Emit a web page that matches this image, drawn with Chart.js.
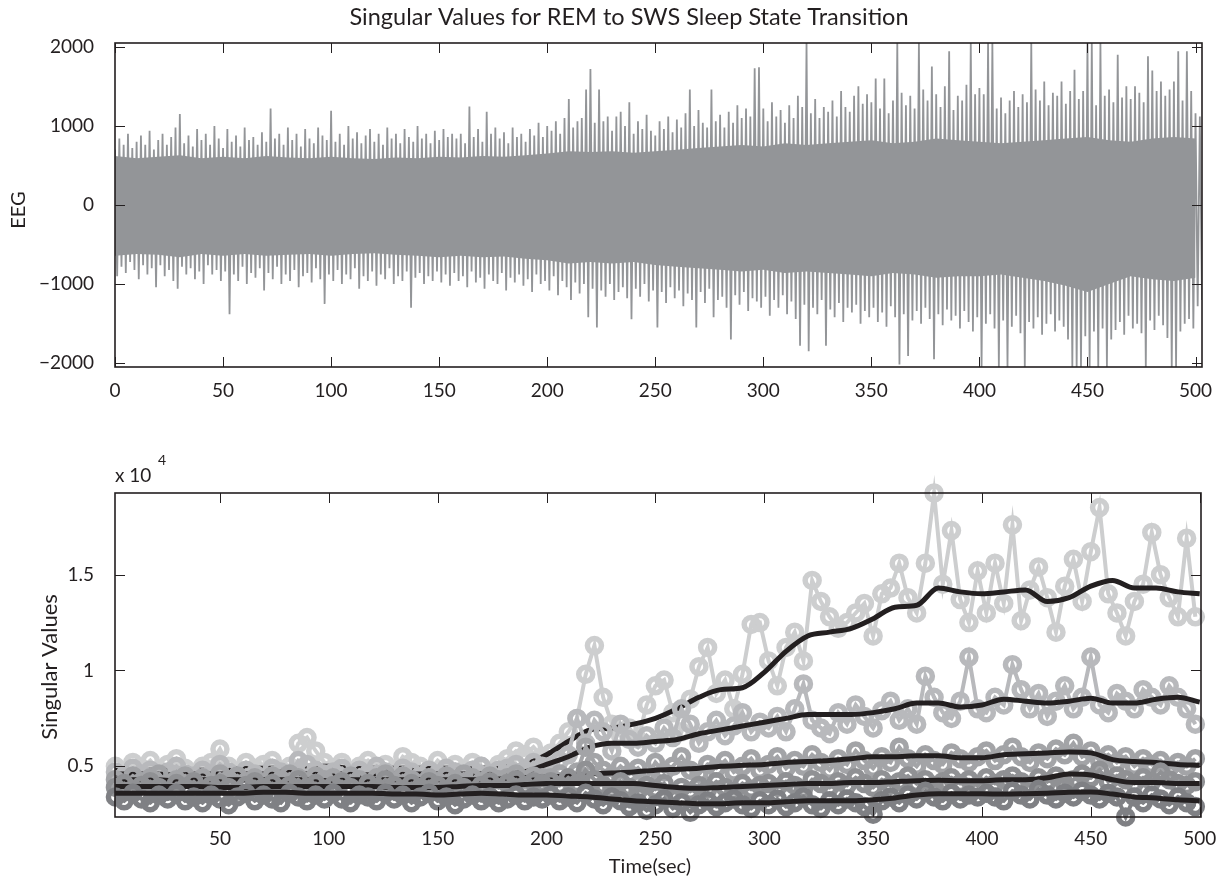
<!DOCTYPE html>
<html>
<head>
<meta charset="utf-8">
<script src="https://cdn.jsdelivr.net/npm/chart.js@4.4.1/dist/chart.umd.min.js"></script>
<style>
    body { margin: 0; background: #fff; }
    #wrap { position: relative; width: 1220px; height: 881px; }
    canvas { position: absolute; left: 0; }
</style>
</head>
<body>
<div id="wrap">
    <canvas id="eegChart" width="1220" height="430" style="top:0"></canvas>
    <canvas id="svdChart" width="1220" height="451" style="top:430px"></canvas>
</div>
<script>
// ---------- EEG (top) : envelope every 2 s ----------
var eegHigh = [
    700, 840, 760, 900, 720, 800, 880, 760, 940, 700, 820, 900, 760, 860, 980, 1150, 780, 880, 740, 960, 820, 900, 760, 1000, 840,
    720, 960, 800, 880, 740, 980, 820, 860, 760, 920, 800, 1220, 840, 900, 760, 980, 820, 900, 740, 960, 840, 780, 980, 880, 820,
    1190, 800, 900, 760, 1000, 840, 920, 780, 880, 960, 800, 900, 760, 980, 840, 900, 780, 960, 860, 800, 1000, 840, 900, 780, 940,
    820, 960, 860, 900, 840, 900, 780, 1245, 860, 960, 800, 1180, 900, 980, 840, 920, 780, 980, 860, 900, 800, 960, 880, 1040, 860,
    1000, 940, 1060, 900, 1100, 1340, 980, 1060, 1100, 1460, 1720, 1040, 1460, 1060, 1120, 940, 1120, 1180, 1000, 1300, 900, 1060, 960, 1140, 940,
    880, 1060, 960, 1120, 920, 1080, 980, 1160, 1460, 1000, 1200, 1040, 980, 1460, 1060, 1140, 980, 1180, 1040, 1260, 1100, 1220, 1120, 1730, 1740,
    1220, 1060, 1300, 1120, 1200, 1040, 1260, 1100, 1380, 1240, 2048, 1160, 1340, 1100, 1240, 1180, 1320, 1120, 1440, 1240, 1180, 1380, 1500, 1280, 1400,
    1300, 1600, 1220, 1600, 1160, 1320, 2048, 1420, 1260, 1380, 1220, 2048, 1460, 1320, 1750, 1400, 1240, 1500, 1945, 1200, 1380, 1320, 1520, 2048, 1400,
    1480, 1400, 2048, 2048, 1220, 1360, 1160, 1320, 1440, 1240, 1400, 1300, 2048, 1460, 1320, 1560, 1260, 1420, 1380, 1560, 1280, 1440, 1710, 1340, 1440,
    2048, 2048, 1260, 2048, 1380, 1460, 1300, 1900, 1360, 1500, 1340, 1500, 1420, 1300, 1880, 1700, 1440, 1560, 1380, 1460, 1560, 1945, 1320, 1945, 1440,
    1160, 1120
];
var eegLow = [
    -900, -780, -860, -720, -820, -940, -760, -880, -800, -1040, -760, -900, -820, -960, -1060, -780, -880, -800, -940, -840, -1000, -760, -880, -820, -960,
    -840, -1380, -880, -960, -780, -1000, -860, -920, -800, -1080, -860, -940, -780, -1000, -880, -960, -820, -1040, -900, -860, -980, -800, -940, -1250, -880,
    -960, -820, -1000, -880, -940, -800, -1060, -900, -960, -840, -1020, -880, -940, -800, -1000, -900, -960, -840, -1300, -920, -860, -1000, -900, -960, -840,
    -980, -880, -1020, -860, -960, -900, -1040, -840, -980, -920, -1060, -880, -960, -1000, -860, -1080, -920, -980, -880, -1020, -940, -1100, -880, -1000, -960,
    -1080, -900, -1140, -960, -1040, -1200, -980, -1120, -1000, -1420, -1060, -1550, -1080, -1160, -1000, -1200, -1100, -1040, -1180, -1445, -1060, -1160, -1000, -1220, -1080,
    -1550, -1100, -1240, -1040, -1180, -1080, -1280, -1120, -1200, -1550, -1100, -1240, -1060, -1420, -1200, -1160, -1300, -1700, -1140, -1260, -1100, -1340, -1180, -1220, -1300,
    -1160, -1400, -1200, -1300, -1140, -1380, -1220, -1440, -1780, -1260, -1850, -1300, -1380, -1200, -1780, -1320, -1420, -1240, -1480, -1300, -1360, -1260, -1500, -1340, -1420,
    -1300, -1480, -1360, -1540, -1280, -1420, -2015, -1380, -1910, -1460, -1340, -1500, -1300, -1440, -1950, -1380, -1520, -1320, -1460, -1400, -1560, -1340, -1480, -1600, -1420,
    -2048, -1500, -1380, -1560, -2048, -1460, -2048, -1540, -1400, -1620, -2048, -1480, -1560, -1420, -1640, -1500, -1380, -1600, -1460, -1540, -1700, -2048, -2048, -2048, -1660,
    -2048, -1600, -2048, -1560, -2048, -1700, -1580, -1480, -1640, -1400, -1560, -1500, -1620, -2048, -1460, -1580, -1400, -1520, -1680, -2048, -2048, -1600, -1500, -1440, -1560,
    -1280, -1200
];
// solid core of the trace, every 10 s
var coreHigh = [
    620, 590, 610, 630, 590, 610, 590, 620, 600, 590,
    610, 590, 580, 600, 590, 610, 600, 620, 610, 630,
    650, 680, 670, 680, 660, 680, 700, 720, 740, 760,
    740, 780, 760, 780, 800, 820, 780, 800, 840, 820,
    800, 780, 800, 820, 840, 860, 820, 800, 840, 860,
    840
];
var coreLow = [
    -640, -620, -630, -660, -620, -640, -620, -640, -630, -620,
    -640, -620, -610, -630, -640, -660, -640, -660, -650, -680,
    -700, -740, -720, -740, -720, -760, -780, -800, -820, -840,
    -820, -860, -840, -860, -880, -900, -860, -880, -920, -900,
    -900, -880, -920, -960, -1020, -1100, -1000, -900, -940, -960,
    -920
];
var eegXTicks = [0, 50, 100, 150, 200, 250, 300, 350, 400, 450, 500];
var eegYTicks = [-2000, -1000, 0, 1000, 2000];

// ---------- singular values (bottom), x 10^4, one point every 4 s from t = 2 ----------
var sv1 = [
    0.50, 0.47, 0.52, 0.49, 0.53, 0.48, 0.51, 0.54, 0.49, 0.46, 0.50, 0.52, 0.59, 0.50, 0.47, 0.52, 0.49, 0.51, 0.53, 0.48, 0.50, 0.62, 0.65, 0.58, 0.52,
    0.49, 0.52, 0.47, 0.50, 0.53, 0.49, 0.51, 0.48, 0.55, 0.52, 0.50, 0.47, 0.53, 0.49, 0.51, 0.48, 0.52, 0.50, 0.47, 0.51, 0.54, 0.58, 0.56, 0.60, 0.55,
    0.57, 0.62, 0.68, 0.75, 0.98, 1.13, 0.86, 0.72, 0.66, 0.70, 0.64, 0.82, 0.92, 0.95, 0.78, 0.68, 0.85, 1.02, 1.12, 0.88, 0.95, 0.80, 0.98, 1.24, 1.25,
    1.05, 0.92, 1.12, 1.20, 1.05, 1.47, 1.36, 1.28, 1.22, 1.25, 1.30, 1.35, 1.18, 1.40, 1.43, 1.56, 1.38, 1.30, 1.56, 1.926, 1.45, 1.73, 1.37, 1.25, 1.52,
    1.30, 1.56, 1.35, 1.76, 1.26, 1.42, 1.54, 1.38, 1.20, 1.44, 1.58, 1.36, 1.62, 1.85, 1.40, 1.30, 1.18, 1.36, 1.45, 1.72, 1.50, 1.38, 1.28, 1.69, 1.28
];
var sv2 = [
    0.47, 0.45, 0.49, 0.46, 0.48, 0.44, 0.47, 0.50, 0.46, 0.45, 0.48, 0.46, 0.51, 0.47, 0.45, 0.48, 0.46, 0.44, 0.49, 0.47, 0.45, 0.53, 0.51, 0.48, 0.46,
    0.47, 0.49, 0.45, 0.48, 0.46, 0.50, 0.47, 0.44, 0.49, 0.47, 0.45, 0.48, 0.46, 0.49, 0.47, 0.45, 0.48, 0.50, 0.46, 0.48, 0.49, 0.51, 0.48, 0.52, 0.50,
    0.50, 0.53, 0.56, 0.75, 0.62, 0.74, 0.68, 0.58, 0.72, 0.64, 0.60, 0.66, 0.62, 0.70, 0.65, 0.80, 0.72, 0.62, 0.68, 0.74, 0.66, 0.71, 0.78, 0.68, 0.73,
    0.70, 0.76, 0.68, 0.80, 0.93, 0.74, 0.70, 0.67, 0.78, 0.72, 0.82, 0.76, 0.70, 0.79, 0.84, 0.74, 0.80, 0.72, 0.97, 0.86, 0.78, 0.75, 0.84, 1.07, 0.80,
    0.78, 0.86, 0.82, 1.03, 0.90, 0.80, 0.88, 0.76, 0.84, 0.92, 0.80, 0.86, 1.07, 0.82, 0.78, 0.88, 0.84, 0.80, 0.90, 0.86, 0.82, 0.92, 0.86, 0.80, 0.72
];
var sv3 = [
    0.43, 0.41, 0.45, 0.42, 0.44, 0.46, 0.41, 0.43, 0.45, 0.42, 0.44, 0.41, 0.46, 0.43, 0.45, 0.42, 0.44, 0.41, 0.45, 0.43, 0.46, 0.44, 0.42, 0.45, 0.43,
    0.44, 0.42, 0.45, 0.43, 0.41, 0.44, 0.46, 0.42, 0.45, 0.43, 0.41, 0.44, 0.42, 0.45, 0.43, 0.46, 0.44, 0.42, 0.45, 0.43, 0.44, 0.46, 0.43, 0.45, 0.44,
    0.44, 0.46, 0.43, 0.47, 0.60, 0.52, 0.48, 0.45, 0.50, 0.46, 0.49, 0.44, 0.52, 0.47, 0.50, 0.55, 0.48, 0.46, 0.51, 0.49, 0.53, 0.47, 0.50, 0.54, 0.48,
    0.51, 0.55, 0.49, 0.53, 0.50, 0.56, 0.52, 0.48, 0.54, 0.51, 0.58, 0.53, 0.49, 0.55, 0.52, 0.60, 0.54, 0.50, 0.56, 0.53, 0.51, 0.57, 0.54, 0.52, 0.55,
    0.58, 0.53, 0.56, 0.60, 0.55, 0.52, 0.57, 0.54, 0.59, 0.56, 0.62, 0.55, 0.58, 0.53, 0.56, 0.52, 0.55, 0.50, 0.54, 0.51, 0.53, 0.49, 0.52, 0.50, 0.54
];
var sv4 = [
    0.39, 0.41, 0.38, 0.40, 0.42, 0.39, 0.37, 0.41, 0.39, 0.42, 0.38, 0.40, 0.41, 0.39, 0.37, 0.40, 0.42, 0.39, 0.41, 0.38, 0.40, 0.43, 0.39, 0.41, 0.38,
    0.40, 0.42, 0.39, 0.37, 0.41, 0.39, 0.43, 0.40, 0.38, 0.41, 0.39, 0.42, 0.40, 0.38, 0.41, 0.39, 0.37, 0.40, 0.42, 0.39, 0.41, 0.43, 0.40, 0.42, 0.41,
    0.42, 0.40, 0.44, 0.41, 0.48, 0.43, 0.40, 0.38, 0.42, 0.39, 0.37, 0.40, 0.38, 0.41, 0.36, 0.39, 0.37, 0.40, 0.38, 0.42, 0.39, 0.37, 0.41, 0.38, 0.40,
    0.41, 0.39, 0.42, 0.40, 0.38, 0.43, 0.41, 0.39, 0.42, 0.40, 0.44, 0.41, 0.39, 0.43, 0.40, 0.42, 0.45, 0.41, 0.43, 0.40, 0.42, 0.44, 0.41, 0.43, 0.40,
    0.44, 0.41, 0.43, 0.45, 0.42, 0.40, 0.44, 0.42, 0.45, 0.41, 0.43, 0.46, 0.44, 0.48, 0.42, 0.45, 0.43, 0.41, 0.44, 0.42, 0.47, 0.43, 0.41, 0.40, 0.42
];
var sv5 = [
    0.34, 0.32, 0.36, 0.33, 0.31, 0.35, 0.33, 0.36, 0.32, 0.34, 0.31, 0.35, 0.33, 0.30, 0.34, 0.36, 0.32, 0.35, 0.33, 0.31, 0.36, 0.34, 0.32, 0.35, 0.33,
    0.36, 0.33, 0.31, 0.35, 0.34, 0.32, 0.36, 0.33, 0.35, 0.31, 0.34, 0.36, 0.32, 0.34, 0.30, 0.33, 0.35, 0.32, 0.34, 0.31, 0.33, 0.35, 0.32, 0.34, 0.33,
    0.35, 0.32, 0.34, 0.31, 0.36, 0.33, 0.30, 0.34, 0.32, 0.29, 0.31, 0.27, 0.30, 0.33, 0.28, 0.31, 0.26, 0.30, 0.32, 0.29, 0.31, 0.33, 0.30, 0.28, 0.32,
    0.30, 0.33, 0.29, 0.31, 0.34, 0.30, 0.28, 0.32, 0.30, 0.33, 0.31, 0.29, 0.25, 0.32, 0.34, 0.31, 0.35, 0.33, 0.37, 0.34, 0.32, 0.36, 0.33, 0.35, 0.34,
    0.36, 0.34, 0.32, 0.37, 0.35, 0.33, 0.38, 0.35, 0.33, 0.36, 0.34, 0.37, 0.35, 0.33, 0.36, 0.34, 0.236, 0.34, 0.31, 0.35, 0.33, 0.30, 0.34, 0.31, 0.29
];
// smoothed trends (black), every 10 s from t = 0
var trend1 = [
    0.48, 0.48, 0.48, 0.48, 0.48, 0.48, 0.49, 0.49, 0.49, 0.50, 0.50, 0.49, 0.49, 0.49, 0.49, 0.49, 0.49, 0.49, 0.50, 0.51,
    0.56, 0.63, 0.69, 0.70, 0.72, 0.75, 0.80, 0.86, 0.90, 0.91, 0.99, 1.10, 1.18, 1.20, 1.22, 1.27, 1.33, 1.34, 1.43, 1.41,
    1.40, 1.41, 1.42, 1.36, 1.38, 1.44, 1.47, 1.43, 1.43, 1.41, 1.40
];
var trend2 = [
    0.46, 0.46, 0.46, 0.455, 0.46, 0.46, 0.46, 0.46, 0.47, 0.46, 0.46, 0.46, 0.455, 0.46, 0.46, 0.46, 0.46, 0.46, 0.46, 0.47,
    0.51, 0.55, 0.60, 0.62, 0.62, 0.63, 0.64, 0.67, 0.69, 0.71, 0.73, 0.75, 0.77, 0.77, 0.77, 0.78, 0.80, 0.83, 0.83, 0.81,
    0.82, 0.85, 0.84, 0.83, 0.84, 0.855, 0.83, 0.83, 0.85, 0.86, 0.835
];
var trend3 = [
    0.43, 0.43, 0.43, 0.425, 0.43, 0.43, 0.43, 0.43, 0.43, 0.43, 0.425, 0.43, 0.43, 0.43, 0.43, 0.43, 0.43, 0.43, 0.435, 0.44,
    0.445, 0.45, 0.46, 0.465, 0.47, 0.48, 0.485, 0.49, 0.50, 0.505, 0.51, 0.52, 0.525, 0.53, 0.54, 0.55, 0.55, 0.555, 0.555, 0.545,
    0.545, 0.56, 0.565, 0.57, 0.575, 0.57, 0.535, 0.525, 0.52, 0.51, 0.505
];
var trend4 = [
    0.395, 0.395, 0.395, 0.395, 0.395, 0.39, 0.39, 0.395, 0.395, 0.395, 0.395, 0.395, 0.395, 0.39, 0.39, 0.39, 0.395, 0.40, 0.40, 0.405,
    0.41, 0.41, 0.41, 0.41, 0.41, 0.40, 0.39, 0.385, 0.39, 0.395, 0.40, 0.405, 0.41, 0.41, 0.415, 0.415, 0.42, 0.425, 0.427, 0.425,
    0.425, 0.43, 0.43, 0.44, 0.46, 0.455, 0.43, 0.415, 0.415, 0.41, 0.41
];
var trend5 = [
    0.36, 0.36, 0.36, 0.36, 0.36, 0.36, 0.36, 0.365, 0.365, 0.36, 0.36, 0.36, 0.36, 0.355, 0.355, 0.35, 0.355, 0.36, 0.355, 0.35,
    0.35, 0.345, 0.34, 0.33, 0.32, 0.315, 0.31, 0.305, 0.305, 0.31, 0.31, 0.315, 0.32, 0.32, 0.32, 0.325, 0.335, 0.35, 0.357, 0.357,
    0.357, 0.355, 0.357, 0.36, 0.365, 0.366, 0.355, 0.34, 0.335, 0.325, 0.32
];
var svXTicks = [50, 100, 150, 200, 250, 300, 350, 400, 450, 500];
var svYTicks = [0.5, 1, 1.5];

var svColors = ['#cdcecf', '#b8b9bc', '#a3a4a7', '#909194', '#7f8084'];
var eegColor = '#939598';
var inkColor = '#231f20';
var fontFamily = 'Lato, "Open Sans", sans-serif';

// time axes
var eegTime = eegHigh.map(function (v, i) { return i * 2; });
var coreTime = coreHigh.map(function (v, i) { return i * 10; });
var svTime = sv1.map(function (v, i) { return 2 + i * 4; });
var trendTime = trend1.map(function (v, i) { return i * 10; });

function pairs(xs, ys) {
    return ys.map(function (y, i) { return {x: xs[i], y: y}; });
}

// MATLAB style box with inward ticks on all four sides
var boxPlugin = {
    id: 'matlabBox',
    afterDraw: function (chart) {
        var ctx = chart.ctx, a = chart.chartArea, sx = chart.scales.x, sy = chart.scales.y;
        var len = 10;
        ctx.save();
        ctx.strokeStyle = inkColor;
        ctx.lineWidth = 1;
        ctx.beginPath();
        sx.ticks.forEach(function (t) {
            var px = Math.round(sx.getPixelForValue(t.value)) + 0.5;
            ctx.moveTo(px, a.bottom); ctx.lineTo(px, a.bottom - len);
            ctx.moveTo(px, a.top); ctx.lineTo(px, a.top + len);
        });
        sy.ticks.forEach(function (t) {
            var py = Math.round(sy.getPixelForValue(t.value)) + 0.5;
            ctx.moveTo(a.left, py); ctx.lineTo(a.left + len, py);
            ctx.moveTo(a.right, py); ctx.lineTo(a.right - len, py);
        });
        ctx.stroke();
        ctx.lineWidth = 1.6;
        ctx.strokeRect(a.left, a.top, a.right - a.left, a.bottom - a.top);
        ctx.restore();
    }
};

function textPlugin(items) {
    return {
        id: 'freeText',
        afterDraw: function (chart) {
            var ctx = chart.ctx;
            ctx.save();
            ctx.fillStyle = inkColor;
            items.forEach(function (it) {
                ctx.save();
                ctx.font = it.size + 'px ' + fontFamily;
                ctx.textAlign = it.align || 'center';
                ctx.textBaseline = it.baseline || 'middle';
                ctx.translate(it.x, it.y);
                if (it.rotate) ctx.rotate(it.rotate);
                ctx.fillText(it.text, 0, 0);
                ctx.restore();
            });
            ctx.restore();
        }
    };
}

function minusLabel(v) {
    return v < 0 ? '\u2212' + Math.abs(v) : String(v);
}

// ---------- top chart ----------
var zig = [];
eegHigh.forEach(function (h, i) {
    zig.push({x: eegTime[i], y: h});
    zig.push({x: eegTime[i] + 1, y: eegLow[i]});
});

new Chart(document.getElementById('eegChart'), {
    type: 'line',
    data: {
        datasets: [
            {data: pairs(coreTime, coreHigh), borderWidth: 0, pointRadius: 0, backgroundColor: eegColor, fill: '+1'},
            {data: pairs(coreTime, coreLow), borderWidth: 0, pointRadius: 0, fill: false},
            {data: zig, borderColor: eegColor, borderWidth: 1.8, pointRadius: 0, fill: false}
        ]
    },
    options: {
        responsive: false,
        animation: false,
        layout: {padding: {left: 0, top: 43, right: 18, bottom: 0}},
        plugins: {legend: {display: false}, tooltip: {enabled: false}},
        scales: {
            x: {
                type: 'linear', min: 0, max: 503,
                grid: {display: false}, border: {display: false},
                afterBuildTicks: function (s) { s.ticks = eegXTicks.map(function (v) { return {value: v}; }); },
                afterFit: function (s) { s.height = 63; },
                ticks: {padding: 4, maxRotation: 0, color: inkColor, font: {family: fontFamily, size: 19},
                    callback: function (v) { return String(v); }}
            },
            y: {
                type: 'linear', min: -2048, max: 2048,
                grid: {display: false}, border: {display: false},
                afterBuildTicks: function (s) { s.ticks = eegYTicks.map(function (v) { return {value: v}; }); },
                afterFit: function (s) { s.width = 115; },
                ticks: {padding: 13, color: inkColor, font: {family: fontFamily, size: 19}, callback: minusLabel}
            }
        }
    },
    plugins: [boxPlugin, textPlugin([
        {text: 'Singular Values for REM to SWS Sleep State Transition', x: 629, y: 25, size: 23.5, baseline: 'alphabetic'},
        {text: 'EEG', x: 19, y: 210, size: 20, rotate: -Math.PI / 2}
    ])]
});

// ---------- bottom chart ----------
var svSets = [sv1, sv2, sv3, sv4, sv5];
var trendSets = [trend1, trend2, trend3, trend4, trend5];
var bottomSets = [];
var drawSeq = 0;
svSets.forEach(function (s, k) {
    bottomSets.push({
        data: pairs(svTime, s),
        borderColor: svColors[k], borderWidth: 4,
        pointStyle: 'circle', pointRadius: 7, pointBorderWidth: 5.5,
        pointBorderColor: svColors[k], pointBackgroundColor: 'rgba(0,0,0,0)',
        fill: false, clip: false, order: 100 - drawSeq++
    });
    bottomSets.push({
        data: pairs(trendTime, trendSets[k]),
        borderColor: inkColor, borderWidth: 5, pointRadius: 0, tension: 0.4,
        cubicInterpolationMode: 'monotone', fill: false, order: 100 - drawSeq++
    });
});

new Chart(document.getElementById('svdChart'), {
    type: 'line',
    data: {datasets: bottomSets},
    options: {
        responsive: false,
        animation: false,
        layout: {padding: {left: 0, top: 63, right: 19, bottom: 0}},
        plugins: {legend: {display: false}, tooltip: {enabled: false}},
        scales: {
            x: {
                type: 'linear', min: 1.8, max: 500.6,
                grid: {display: false}, border: {display: false},
                afterBuildTicks: function (s) { s.ticks = svXTicks.map(function (v) { return {value: v}; }); },
                afterFit: function (s) { s.height = 64; },
                ticks: {padding: 2, maxRotation: 0, color: inkColor, font: {family: fontFamily, size: 19},
                    callback: function (v) { return String(v); }}
            },
            y: {
                type: 'linear', min: 0.2355, max: 1.926,
                grid: {display: false}, border: {display: false},
                afterBuildTicks: function (s) { s.ticks = svYTicks.map(function (v) { return {value: v}; }); },
                afterFit: function (s) { s.width = 115; },
                ticks: {padding: 13, color: inkColor, font: {family: fontFamily, size: 19},
                    callback: function (v) { return String(v); }}
            }
        }
    },
    plugins: [boxPlugin, textPlugin([
        {text: 'x 10', x: 115, y: 52, size: 19, align: 'left', baseline: 'alphabetic'},
        {text: '4', x: 158, y: 35, size: 14, align: 'left', baseline: 'alphabetic'},
        {text: 'Singular Values', x: 50, y: 237, size: 22, rotate: -Math.PI / 2},
        {text: 'Time(sec)', x: 650, y: 443, size: 20, baseline: 'alphabetic'}
    ])]
});
</script>
</body>
</html>
